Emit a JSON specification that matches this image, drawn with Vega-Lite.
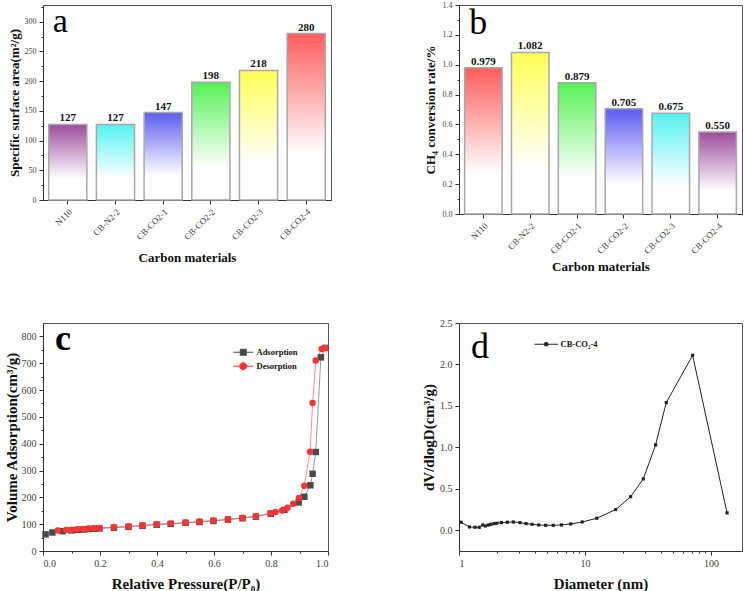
{
 "$schema": "https://vega.github.io/schema/vega-lite/v6.json",
 "padding": {"left": 3, "top": 0, "right": 0, "bottom": 0},
 "background": "white",
 "columns": 2,
 "bounds": "flush",
 "align": "each",
 "spacing": {"row": 109, "column": 128},
 "resolve": {"scale": {"color": "independent", "shape": "independent"}, "legend": {"color": "independent", "shape": "independent"}},
 "config": {
  "font": "Liberation Serif",
  "view": {"stroke": "#555555", "strokeWidth": 1},
  "axis": {"labelFont": "Liberation Serif", "titleFont": "Liberation Serif", "titleFontWeight": "bold", "titleColor": "#111111", "labelColor": "#444444", "domainColor": "#333333", "tickColor": "#333333", "tickSize": 4, "labelPadding": 3, "grid": false},
  "legend": {"labelFont": "Liberation Serif"}
 },
 "concat": [
  {
   "width": 288, "height": 195,
   "data": {"values": [
    {"m": "N110", "v": 127}, {"m": "CB-N2-2", "v": 127}, {"m": "CB-CO2-1", "v": 147},
    {"m": "CB-CO2-2", "v": 198}, {"m": "CB-CO2-3", "v": 218}, {"m": "CB-CO2-4", "v": 280}
   ]},
   "resolve": {"axis": {"y": "independent"}},
   "layer": [
    {
     "encoding": {
      "x": {"field": "m", "type": "nominal", "sort": null, "scale": {"paddingInner": 0.2, "paddingOuter": 0.12},
            "axis": {"title": "Carbon materials", "labelAngle": -45, "labelFontSize": 9, "titleFontSize": 13, "titlePadding": 10}},
      "y": {"field": "v", "type": "quantitative", "scale": {"domain": [0, 328], "nice": false},
            "axis": {"title": "Specific surface area(m²/g)", "orient": "left", "values": [0, 50, 100, 150, 200, 250, 300], "labelFontSize": 8, "titleFontSize": 13, "titlePadding": 3}}
     },
     "layer": [
      {"mark": {"type": "bar", "stroke": "#a8a8a8", "strokeWidth": 1.5},
       "encoding": {"color": {"condition": [
        {"test": "datum.m === 'N110'", "value": {"gradient": "linear", "x1": 0, "y1": 0, "x2": 0, "y2": 1, "stops": [{"offset": 0, "color": "#9c4c9c"}, {"offset": 0.72, "color": "#ffffff"}]}},
        {"test": "datum.m === 'CB-N2-2'", "value": {"gradient": "linear", "x1": 0, "y1": 0, "x2": 0, "y2": 1, "stops": [{"offset": 0, "color": "#55f2f2"}, {"offset": 0.72, "color": "#ffffff"}]}},
        {"test": "datum.m === 'CB-CO2-1'", "value": {"gradient": "linear", "x1": 0, "y1": 0, "x2": 0, "y2": 1, "stops": [{"offset": 0, "color": "#5c5cf2"}, {"offset": 0.72, "color": "#ffffff"}]}},
        {"test": "datum.m === 'CB-CO2-2'", "value": {"gradient": "linear", "x1": 0, "y1": 0, "x2": 0, "y2": 1, "stops": [{"offset": 0, "color": "#55f255"}, {"offset": 0.72, "color": "#ffffff"}]}},
        {"test": "datum.m === 'CB-CO2-3'", "value": {"gradient": "linear", "x1": 0, "y1": 0, "x2": 0, "y2": 1, "stops": [{"offset": 0, "color": "#ffff55"}, {"offset": 0.72, "color": "#ffffff"}]}}
       ], "value": {"gradient": "linear", "x1": 0, "y1": 0, "x2": 0, "y2": 1, "stops": [{"offset": 0, "color": "#ff5c5c"}, {"offset": 0.72, "color": "#ffffff"}]}}}},
      {"mark": {"type": "text", "fontWeight": "bold", "fontSize": 11, "baseline": "alphabetic", "dy": -3, "color": "#111111"},
       "encoding": {"text": {"field": "v", "type": "quantitative"}}},
      {"data": {"values": [{"t": "a", "px": "N110", "py": 283}]},
       "mark": {"type": "text", "fontSize": 34, "align": "left", "baseline": "alphabetic", "dx": -15, "color": "#000000"},
       "encoding": {"x": {"field": "px", "type": "nominal", "sort": null}, "y": {"field": "py", "type": "quantitative"}, "text": {"field": "t", "type": "nominal"}}}
     ]
    },
    {"mark": {"type": "point", "opacity": 0, "size": 0},
     "encoding": {"y": {"field": "v", "type": "quantitative", "scale": {"domain": [0, 328], "nice": false},
       "axis": {"orient": "left", "values": [25, 75, 125, 175, 225, 275, 325], "labels": false, "tickSize": 2, "domain": false, "title": null}}}}
   ]
  },
  {
   "width": 283, "height": 209,
   "data": {"values": [
    {"m": "N110", "v": 0.979}, {"m": "CB-N2-2", "v": 1.082}, {"m": "CB-CO2-1", "v": 0.879},
    {"m": "CB-CO2-2", "v": 0.705}, {"m": "CB-CO2-3", "v": 0.675}, {"m": "CB-CO2-4", "v": 0.55}
   ]},
   "resolve": {"axis": {"y": "independent"}},
   "layer": [
    {
     "encoding": {
      "x": {"field": "m", "type": "nominal", "sort": null, "scale": {"paddingInner": 0.2, "paddingOuter": 0.12},
            "axis": {"title": "Carbon materials", "labelAngle": -45, "labelFontSize": 9, "titleFontSize": 13, "titlePadding": 5}},
      "y": {"field": "v", "type": "quantitative", "scale": {"domain": [0, 1.4], "nice": false},
            "axis": {"title": "CH₄ conversion rate/%", "orient": "left", "values": [0, 0.2, 0.4, 0.6, 0.8, 1.0, 1.2, 1.4], "format": ".1f", "labelFontSize": 8, "titleFontSize": 13, "titlePadding": 5}}
     },
     "layer": [
      {"mark": {"type": "bar", "stroke": "#a8a8a8", "strokeWidth": 1.5},
       "encoding": {"color": {"condition": [
        {"test": "datum.m === 'N110'", "value": {"gradient": "linear", "x1": 0, "y1": 0, "x2": 0, "y2": 1, "stops": [{"offset": 0, "color": "#ff5c5c"}, {"offset": 0.72, "color": "#ffffff"}]}},
        {"test": "datum.m === 'CB-N2-2'", "value": {"gradient": "linear", "x1": 0, "y1": 0, "x2": 0, "y2": 1, "stops": [{"offset": 0, "color": "#ffff55"}, {"offset": 0.72, "color": "#ffffff"}]}},
        {"test": "datum.m === 'CB-CO2-1'", "value": {"gradient": "linear", "x1": 0, "y1": 0, "x2": 0, "y2": 1, "stops": [{"offset": 0, "color": "#55f255"}, {"offset": 0.72, "color": "#ffffff"}]}},
        {"test": "datum.m === 'CB-CO2-2'", "value": {"gradient": "linear", "x1": 0, "y1": 0, "x2": 0, "y2": 1, "stops": [{"offset": 0, "color": "#5c5cf2"}, {"offset": 0.72, "color": "#ffffff"}]}},
        {"test": "datum.m === 'CB-CO2-3'", "value": {"gradient": "linear", "x1": 0, "y1": 0, "x2": 0, "y2": 1, "stops": [{"offset": 0, "color": "#55f2f2"}, {"offset": 0.72, "color": "#ffffff"}]}}
       ], "value": {"gradient": "linear", "x1": 0, "y1": 0, "x2": 0, "y2": 1, "stops": [{"offset": 0, "color": "#9c4c9c"}, {"offset": 0.72, "color": "#ffffff"}]}}}},
      {"mark": {"type": "text", "fontWeight": "bold", "fontSize": 11, "baseline": "alphabetic", "dy": -3, "color": "#111111"},
       "encoding": {"text": {"field": "v", "type": "quantitative", "format": ".3f"}}},
      {"data": {"values": [{"t": "b", "px": "N110", "py": 1.206}]},
       "mark": {"type": "text", "fontSize": 36, "align": "left", "baseline": "alphabetic", "dx": -14, "color": "#000000"},
       "encoding": {"x": {"field": "px", "type": "nominal", "sort": null}, "y": {"field": "py", "type": "quantitative"}, "text": {"field": "t", "type": "nominal"}}}
     ]
    },
    {"mark": {"type": "point", "opacity": 0, "size": 0},
     "encoding": {"y": {"field": "v", "type": "quantitative", "scale": {"domain": [0, 1.4], "nice": false},
       "axis": {"orient": "left", "values": [0.1, 0.3, 0.5, 0.7, 0.9, 1.1, 1.3], "labels": false, "tickSize": 2, "domain": false, "title": null}}}}
   ]
  },
  {
   "width": 285, "height": 228,
   "data": {"values": [
    {"p": 0.009, "v": 62, "s": "Adsorption"}, {"p": 0.033, "v": 69, "s": "Adsorption"}, {"p": 0.069, "v": 74, "s": "Adsorption"},
    {"p": 0.1, "v": 77, "s": "Adsorption"}, {"p": 0.121, "v": 79, "s": "Adsorption"}, {"p": 0.142, "v": 80, "s": "Adsorption"},
    {"p": 0.16, "v": 82, "s": "Adsorption"}, {"p": 0.18, "v": 83, "s": "Adsorption"}, {"p": 0.198, "v": 84, "s": "Adsorption"},
    {"p": 0.249, "v": 87, "s": "Adsorption"}, {"p": 0.3, "v": 90, "s": "Adsorption"}, {"p": 0.349, "v": 94, "s": "Adsorption"},
    {"p": 0.399, "v": 98, "s": "Adsorption"}, {"p": 0.448, "v": 101, "s": "Adsorption"}, {"p": 0.5, "v": 105, "s": "Adsorption"},
    {"p": 0.549, "v": 108, "s": "Adsorption"}, {"p": 0.598, "v": 112, "s": "Adsorption"}, {"p": 0.649, "v": 117, "s": "Adsorption"},
    {"p": 0.7, "v": 122, "s": "Adsorption"}, {"p": 0.747, "v": 128, "s": "Adsorption"}, {"p": 0.799, "v": 139, "s": "Adsorption"},
    {"p": 0.847, "v": 153, "s": "Adsorption"}, {"p": 0.897, "v": 181, "s": "Adsorption"}, {"p": 0.917, "v": 202, "s": "Adsorption"},
    {"p": 0.938, "v": 245, "s": "Adsorption"}, {"p": 0.946, "v": 288, "s": "Adsorption"}, {"p": 0.957, "v": 369, "s": "Adsorption"},
    {"p": 0.975, "v": 722, "s": "Adsorption"}, {"p": 0.99, "v": 757, "s": "Adsorption"},
    {"p": 0.052, "v": 76, "s": "Desorption"}, {"p": 0.081, "v": 78, "s": "Desorption"}, {"p": 0.1, "v": 79, "s": "Desorption"},
    {"p": 0.121, "v": 81, "s": "Desorption"}, {"p": 0.142, "v": 82, "s": "Desorption"}, {"p": 0.16, "v": 84, "s": "Desorption"},
    {"p": 0.18, "v": 85, "s": "Desorption"}, {"p": 0.198, "v": 86, "s": "Desorption"}, {"p": 0.249, "v": 89, "s": "Desorption"},
    {"p": 0.3, "v": 92, "s": "Desorption"}, {"p": 0.349, "v": 96, "s": "Desorption"}, {"p": 0.399, "v": 100, "s": "Desorption"},
    {"p": 0.448, "v": 103, "s": "Desorption"}, {"p": 0.5, "v": 106, "s": "Desorption"}, {"p": 0.549, "v": 110, "s": "Desorption"},
    {"p": 0.598, "v": 114, "s": "Desorption"}, {"p": 0.649, "v": 118, "s": "Desorption"}, {"p": 0.7, "v": 124, "s": "Desorption"},
    {"p": 0.747, "v": 130, "s": "Desorption"}, {"p": 0.798, "v": 141, "s": "Desorption"}, {"p": 0.816, "v": 145, "s": "Desorption"},
    {"p": 0.839, "v": 151, "s": "Desorption"}, {"p": 0.858, "v": 161, "s": "Desorption"}, {"p": 0.878, "v": 176, "s": "Desorption"},
    {"p": 0.898, "v": 198, "s": "Desorption"}, {"p": 0.917, "v": 243, "s": "Desorption"}, {"p": 0.937, "v": 370, "s": "Desorption"},
    {"p": 0.946, "v": 552, "s": "Desorption"}, {"p": 0.957, "v": 710, "s": "Desorption"}, {"p": 0.978, "v": 753, "s": "Desorption"},
    {"p": 0.99, "v": 757, "s": "Desorption"}
   ]},
   "resolve": {"axis": {"x": "independent", "y": "independent"}},
   "layer": [
    {
     "encoding": {
      "x": {"field": "p", "type": "quantitative", "scale": {"domain": [0, 1], "nice": false},
            "axis": {"title": "Relative Pressure(P/P₀)", "orient": "bottom", "values": [0, 0.2, 0.4, 0.6, 0.8, 1.0], "format": ".1f", "labelFontSize": 10, "titleFontSize": 15, "titlePadding": 8}},
      "y": {"field": "v", "type": "quantitative", "scale": {"domain": [0, 850], "nice": false},
            "axis": {"title": "Volume Adsorption(cm³/g)", "orient": "left", "values": [0, 100, 200, 300, 400, 500, 600, 700, 800], "labelFontSize": 10, "titleFontSize": 15, "titlePadding": 2}},
      "color": {"field": "s", "type": "nominal", "scale": {"domain": ["Adsorption", "Desorption"], "range": ["#4a4a4a", "#ff3333"]},
        "legend": {"orient": "none", "legendX": 196, "legendY": 25, "title": null, "padding": 0, "labelFontSize": 8.5, "labelFontWeight": "bold", "labelColor": "#111111", "symbolSize": 36, "labelOffset": 9, "rowPadding": 2,
          "encoding": {"symbols": {
            "shape": {"condition": {"test": "datum.value === 'Adsorption'", "value": "M-3.3,0H3.3M-1,-1H1V1H-1Z"}, "value": "M-3.3,0H3.3M1.17,0A1.17,1.17,0,1,1,-1.17,0A1.17,1.17,0,1,1,1.17,0Z"},
            "fill": {"condition": {"test": "datum.value === 'Adsorption'", "value": "#4a4a4a"}, "value": "#ff3333"},
            "stroke": {"condition": {"test": "datum.value === 'Adsorption'", "value": "#888888"}, "value": "#ff8080"},
            "strokeWidth": {"value": 1}, "opacity": {"value": 1}, "fillOpacity": {"value": 1}, "strokeOpacity": {"value": 1}}}}}
     },
     "layer": [
      {"mark": {"type": "line", "strokeWidth": 1, "opacity": 0.55}},
      {"mark": {"type": "point", "filled": true, "size": 42, "opacity": 1},
       "encoding": {"shape": {"condition": {"test": "datum.s === 'Adsorption'", "value": "square"}, "value": "circle"}}},
      {"data": {"values": [{"t": "c", "px": 0.042, "py": 751}]},
       "mark": {"type": "text", "fontSize": 36, "fontWeight": "bold", "align": "left", "baseline": "alphabetic"},
       "encoding": {"x": {"field": "px", "type": "quantitative"}, "y": {"field": "py", "type": "quantitative"}, "text": {"field": "t", "type": "nominal"}, "color": {"value": "#000000"}}}
     ]
    },
    {"mark": {"type": "point", "opacity": 0, "size": 0},
     "encoding": {
      "x": {"field": "p", "type": "quantitative", "scale": {"domain": [0, 1], "nice": false},
            "axis": {"orient": "bottom", "values": [0.1, 0.3, 0.5, 0.7, 0.9], "labels": false, "tickSize": 2, "domain": false, "title": null}},
      "y": {"field": "v", "type": "quantitative", "scale": {"domain": [0, 850], "nice": false},
            "axis": {"orient": "left", "values": [50, 150, 250, 350, 450, 550, 650, 750], "labels": false, "tickSize": 2, "domain": false, "title": null}}}}
   ]
  },
  {
   "width": 283, "height": 228,
   "data": {"values": [
    {"d": 0.97, "v": 0.15, "s": "CB-CO₂-4"}, {"d": 1.04, "v": 0.097, "s": "CB-CO₂-4"}, {"d": 1.21, "v": 0.04, "s": "CB-CO₂-4"},
    {"d": 1.34, "v": 0.036, "s": "CB-CO₂-4"}, {"d": 1.45, "v": 0.036, "s": "CB-CO₂-4"}, {"d": 1.54, "v": 0.064, "s": "CB-CO₂-4"},
    {"d": 1.62, "v": 0.052, "s": "CB-CO₂-4"}, {"d": 1.71, "v": 0.064, "s": "CB-CO₂-4"}, {"d": 1.79, "v": 0.072, "s": "CB-CO₂-4"},
    {"d": 1.9, "v": 0.08, "s": "CB-CO₂-4"}, {"d": 2.0, "v": 0.085, "s": "CB-CO₂-4"}, {"d": 2.17, "v": 0.092, "s": "CB-CO₂-4"},
    {"d": 2.42, "v": 0.097, "s": "CB-CO₂-4"}, {"d": 2.7, "v": 0.1, "s": "CB-CO₂-4"}, {"d": 3.05, "v": 0.092, "s": "CB-CO₂-4"},
    {"d": 3.4, "v": 0.08, "s": "CB-CO₂-4"}, {"d": 3.8, "v": 0.072, "s": "CB-CO₂-4"}, {"d": 4.29, "v": 0.064, "s": "CB-CO₂-4"},
    {"d": 4.87, "v": 0.06, "s": "CB-CO₂-4"}, {"d": 5.6, "v": 0.06, "s": "CB-CO₂-4"}, {"d": 6.5, "v": 0.064, "s": "CB-CO₂-4"},
    {"d": 7.7, "v": 0.076, "s": "CB-CO₂-4"}, {"d": 9.5, "v": 0.1, "s": "CB-CO₂-4"}, {"d": 12.4, "v": 0.145, "s": "CB-CO₂-4"},
    {"d": 17.5, "v": 0.25, "s": "CB-CO₂-4"}, {"d": 23.0, "v": 0.405, "s": "CB-CO₂-4"}, {"d": 29.0, "v": 0.62, "s": "CB-CO₂-4"},
    {"d": 36.3, "v": 1.03, "s": "CB-CO₂-4"}, {"d": 44.1, "v": 1.54, "s": "CB-CO₂-4"}, {"d": 71.4, "v": 2.11, "s": "CB-CO₂-4"},
    {"d": 134, "v": 0.21, "s": "CB-CO₂-4"}
   ]},
   "resolve": {"axis": {"x": "independent"}},
   "layer": [
    {
     "encoding": {
      "x": {"field": "d", "type": "quantitative", "scale": {"type": "log", "domain": [1, 176], "nice": false},
            "axis": {"title": "Diameter (nm)", "orient": "bottom", "values": [1, 10, 100], "format": "d", "labelFontSize": 10, "titleFontSize": 15, "titlePadding": 8}},
      "y": {"field": "v", "type": "quantitative", "scale": {"domain": [-0.25, 2.5], "nice": false},
            "axis": {"title": "dV/dlogD(cm³/g)", "values": [0, 0.5, 1.0, 1.5, 2.0, 2.5], "format": ".1f", "labelFontSize": 10, "titleFontSize": 15, "titlePadding": 3}},
      "color": {"field": "s", "type": "nominal", "scale": {"range": ["#222222"]},
        "legend": {"orient": "none", "legendX": 83, "legendY": 17, "title": null, "padding": 0, "labelFontSize": 8.5, "labelFontWeight": "bold", "labelColor": "#111111", "symbolSize": 36, "labelOffset": 10,
          "encoding": {"symbols": {"shape": {"value": "M-3.9,0H3.9M-0.5,-0.5H0.5V0.5H-0.5Z"}, "fill": {"value": "#222222"}, "stroke": {"value": "#444444"}, "strokeWidth": {"value": 1}, "opacity": {"value": 1}, "fillOpacity": {"value": 1}, "strokeOpacity": {"value": 1}}}}}
     },
     "layer": [
      {"mark": {"type": "line", "strokeWidth": 1, "clip": true}},
      {"mark": {"type": "point", "shape": "square", "filled": true, "size": 10, "clip": true, "opacity": 1}},
      {"data": {"values": [{"t": "d", "px": 1.245, "py": 2.08}]},
       "mark": {"type": "text", "fontSize": 36, "align": "left", "baseline": "alphabetic"},
       "encoding": {"x": {"field": "px", "type": "quantitative"}, "y": {"field": "py", "type": "quantitative"}, "text": {"field": "t", "type": "nominal"}, "color": {"value": "#000000"}}}
     ]
    },
    {"mark": {"type": "point", "opacity": 0, "size": 0},
     "encoding": {
      "x": {"field": "d", "type": "quantitative", "scale": {"type": "log", "domain": [1, 176], "nice": false},
            "axis": {"orient": "bottom", "values": [2, 3, 4, 5, 6, 7, 8, 9, 20, 30, 40, 50, 60, 70, 80, 90], "labels": false, "tickSize": 2, "domain": false, "title": null}}}}
   ]
  }
 ]
}
